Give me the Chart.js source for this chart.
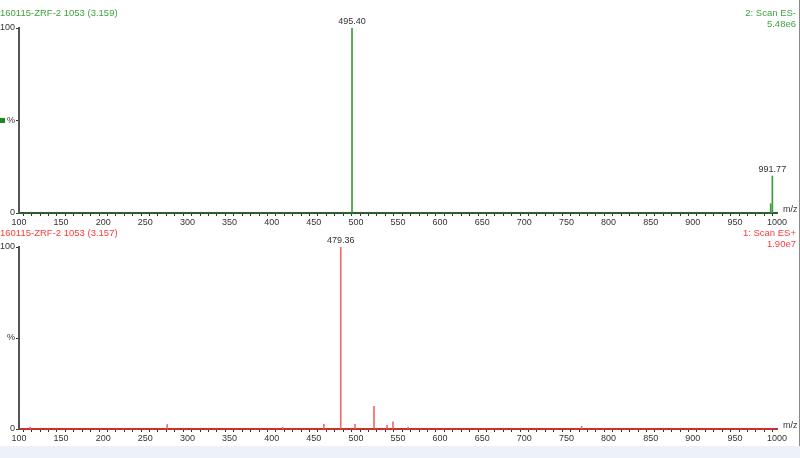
<!DOCTYPE html>
<html>
<head>
<meta charset="utf-8">
<script src="https://cdn.jsdelivr.net/npm/chart.js@4"></script>
<style>
  body { margin: 0; width: 800px; height: 458px; background: #edf1f8; font-family: "Liberation Sans", Arial, sans-serif; overflow: hidden; }
  #wrap { position: absolute; left: 0; top: 0; width: 799px; height: 446px; background: #fff; border-right: 1px solid #8a8a8a; }
  canvas { position: absolute; left: 0; }
  .t { position: absolute; font-size: 9.5px; white-space: nowrap; line-height: 11px; }
  .g { color: #3ea33e; }
  .r { color: #ff3b3b; }
  .rt { text-align: right; right: 3px; }
  #mark { position: absolute; left: 0; top: 118px; width: 5px; height: 5px; background: #1c8a1c; }
</style>
</head>
<body>
<div id="wrap">
  <canvas id="top" width="799" height="230" style="top:0"></canvas>
  <canvas id="bottom" width="799" height="220" style="top:226px"></canvas>
  <div class="t g" style="left:0;top:7px">160115-ZRF-2 1053 (3.159)</div>
  <div class="t g rt" style="top:7px">2: Scan ES-</div>
  <div class="t g rt" style="top:18px">5.48e6</div>
  <div class="t r" style="left:0;top:227px">160115-ZRF-2 1053 (3.157)</div>
  <div class="t r rt" style="top:227px">1: Scan ES+</div>
  <div class="t r rt" style="top:238px">1.90e7</div>
  <div id="mark"></div>
</div>
<script>
// сверху: ES- скан
const topMz = [495.40, 992.5, 994.5];
const topInt = [100, 5, 20];
const topLabelled = [{ x: 994.5, text: "991.77" }, { x: 495.40, text: "495.40" }];

// снизу: ES+ скан
const bottomMz = [113, 276, 413, 462, 482, 499, 521.5, 537, 544, 562, 768];
const bottomInt = [1, 2.5, 1, 2.5, 100, 2.5, 12.5, 2, 4, 1, 1.5];
const bottomLabelled = [{ x: 482, text: "479.36" }];

const yTickLabels = { 100: "100", 50: "%", 0: "0" };

// подписи пиков и "m/z" у оси
const peakLabels = {
  id: "peakLabels",
  afterDatasetsDraw(chart, args, opts) {
    const ctx = chart.ctx;
    const meta = chart.getDatasetMeta(0);
    const ds = chart.data.datasets[0].data;
    ctx.save();
    ctx.font = "9px 'Liberation Sans', Arial, sans-serif";
    ctx.fillStyle = "#333";
    ctx.textAlign = "center";
    ctx.textBaseline = "bottom";
    opts.labels.forEach(lb => {
      const i = ds.findIndex(p => p.x === lb.x);
      if (i < 0) return;
      const el = meta.data[i];
      ctx.fillText(lb.text, el.x, el.y - 2);
    });
    const a = chart.chartArea;
    ctx.textAlign = "left";
    ctx.textBaseline = "bottom";
    ctx.fillText("m/z", a.right + 6, a.bottom + 1);
    ctx.restore();
  }
};

function makeChart(id, mz, inten, labelled, color, baseColor, topPad) {
  const points = mz.map((x, i) => ({ x: x, y: inten[i] }));
  return new Chart(document.getElementById(id), {
    type: "bar",
    data: {
      datasets: [{
        data: points,
        backgroundColor: color,
        borderWidth: 0,
        barThickness: 1
      }]
    },
    options: {
      responsive: false,
      animation: false,
      layout: { padding: { top: topPad, right: 22, left: 0, bottom: 0 } },
      plugins: {
        legend: { display: false },
        tooltip: { enabled: false },
        peakLabels: { labels: labelled }
      },
      scales: {
        x: {
          type: "linear",
          min: 100,
          max: 1000,
          offset: false,
          afterFit: s => { s.height = 17; },
          border: { color: baseColor, width: 2 },
          grid: { drawOnChartArea: false, tickLength: 3, color: "#333" },
          ticks: {
            stepSize: 10,
            autoSkip: false,
            maxRotation: 0,
            padding: 1,
            color: "#333",
            font: { family: "'Liberation Sans', Arial", size: 9 },
            callback: v => (v % 50 === 0 ? String(v) : "")
          }
        },
        y: {
          min: 0,
          max: 100,
          afterFit: s => { s.width = 19; },
          border: { color: "#555", width: 2 },
          grid: { drawOnChartArea: false, tickLength: 3, color: "#333" },
          ticks: {
            stepSize: 50,
            padding: 1,
            color: "#333",
            font: { family: "'Liberation Sans', Arial", size: 9 },
            callback: v => yTickLabels[v] || ""
          }
        }
      }
    },
    plugins: [peakLabels]
  });
}

makeChart("top", topMz, topInt, topLabelled, "#3a9c3a", "#2f5e2f", 28);
makeChart("bottom", bottomMz, bottomInt, bottomLabelled, "#f26a6a", "#c8322c", 21);
</script>
</body>
</html>
